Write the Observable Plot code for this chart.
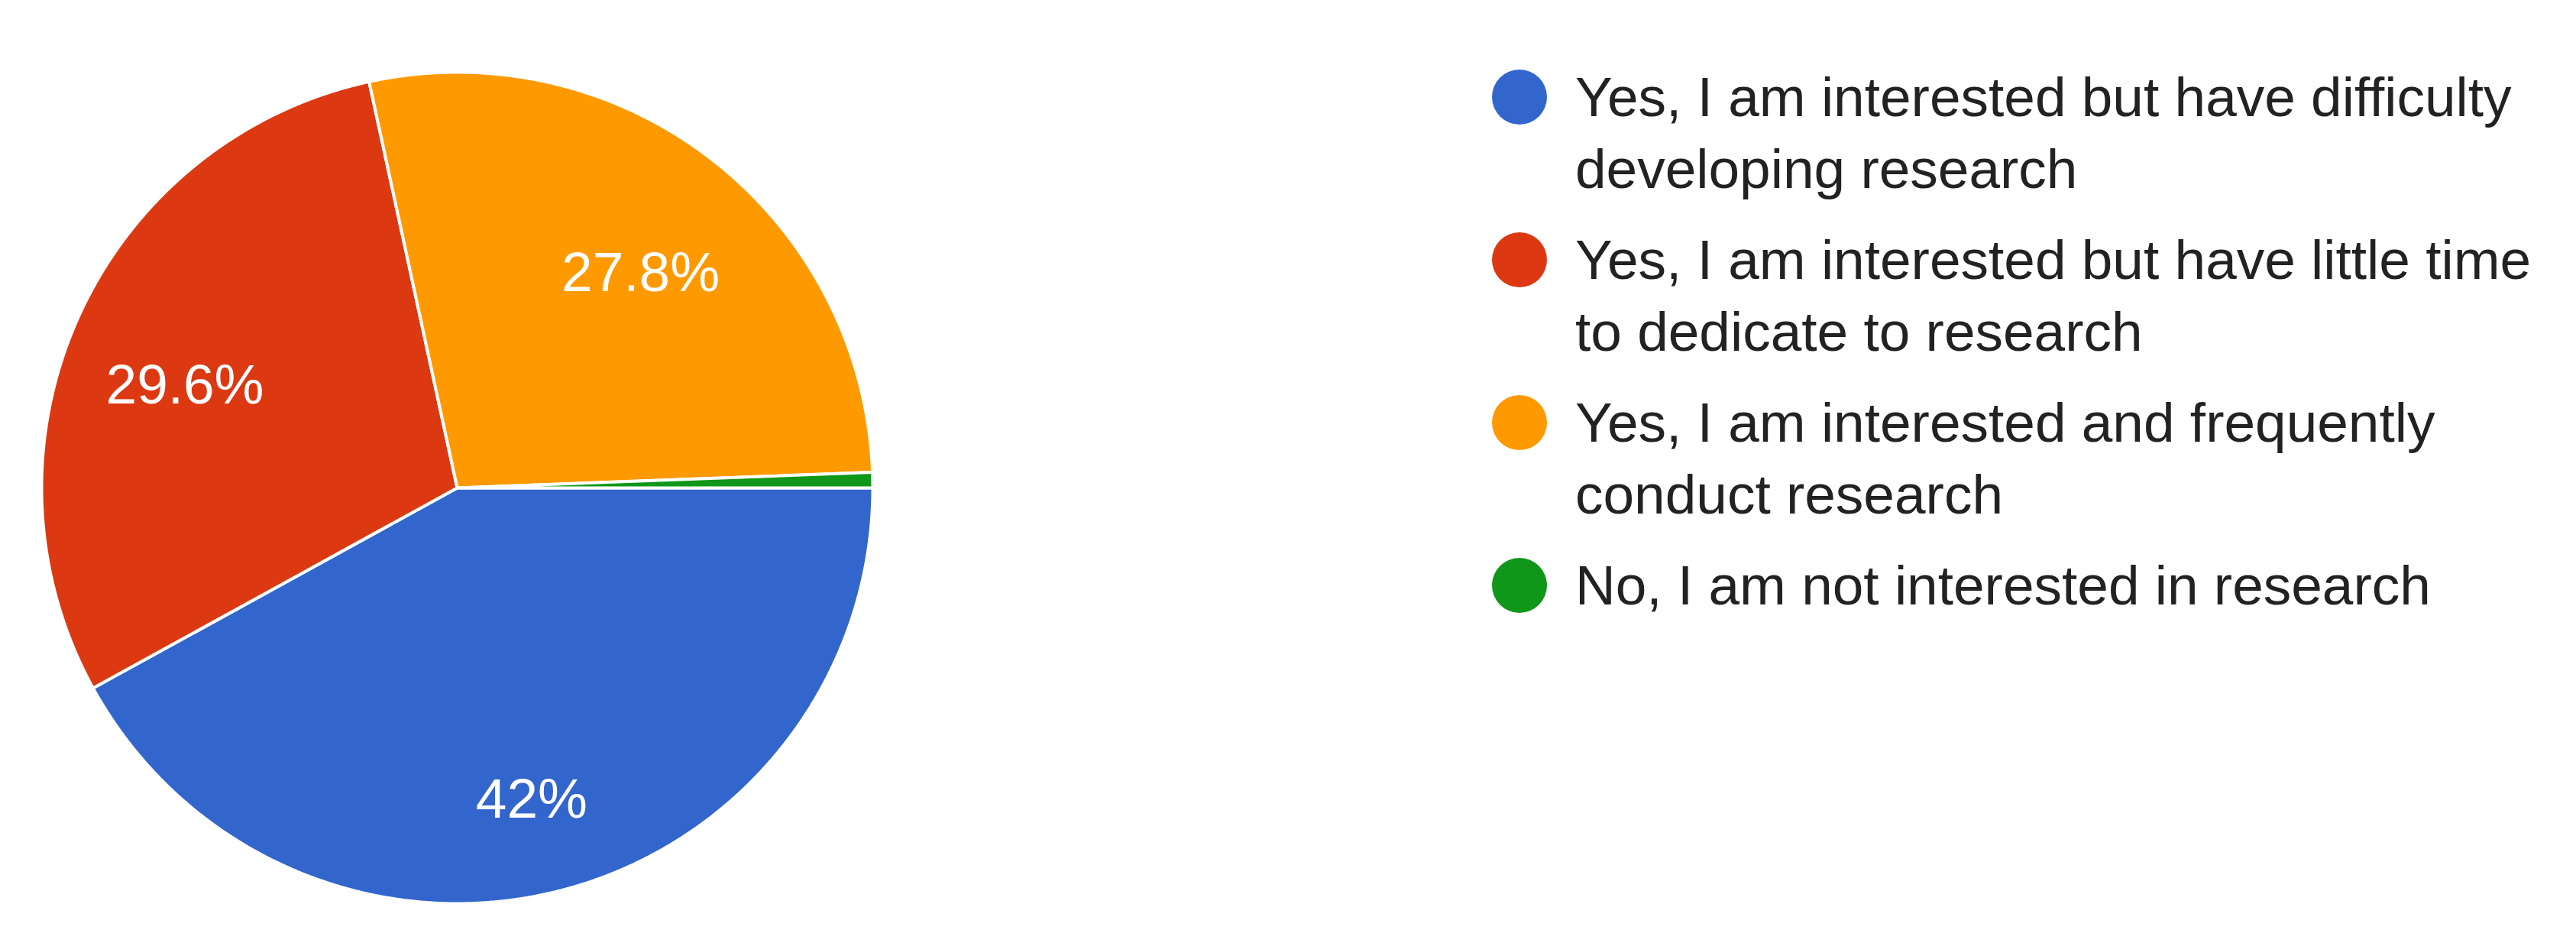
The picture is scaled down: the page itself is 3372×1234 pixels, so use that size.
<!DOCTYPE html>
<html>
<head>
<meta charset="utf-8">
<script src="https://cdn.jsdelivr.net/npm/d3@7"></script>
<script src="https://cdn.jsdelivr.net/npm/@observablehq/plot@0.6"></script>
<style>
html, body { margin: 0; padding: 0; background: #fff; }
body { width: 3372px; height: 1234px; position: relative; overflow: hidden; font-family: "Liberation Sans", Arial, sans-serif; }
#pie { position: absolute; left: 0; top: 0; }
#legend { position: absolute; left: 1953px; top: 80px; }
.item { display: flex; align-items: flex-start; margin-bottom: 25px; }
.dot { width: 72px; height: 72px; border-radius: 50%; margin-top: 11px; flex: none; }
.lab { margin-left: 37px; width: 1270px; font-size: 73px; line-height: 94px; color: #222; }
</style>
</head>
<body>
<div id="pie"></div>
<div id="legend"></div>
<script>
// ---- data ----
const categories = [
  "Yes, I am interested but have difficulty developing research",
  "Yes, I am interested but have little time to dedicate to research",
  "Yes, I am interested and frequently conduct research",
  "No, I am not interested in research"
];
const shares = [42, 29.6, 27.8, 0.6];
const sliceLabels = ["42%", "29.6%", "27.8%", ""];
const colors = ["#3366cc", "#dc3912", "#ff9900", "#109618"];

// ---- geometry from data (pie layout) ----
const rows = categories.map((c, i) => ({key: c, value: shares[i], label: sliceLabels[i]}));
const arcs = d3.pie().sort(null).value(d => d.value)
  .startAngle(Math.PI / 2).endAngle(Math.PI / 2 + 2 * Math.PI)(rows);

const points = [];
const labelPts = [];
for (const a of arcs) {
  const a0 = a.startAngle - Math.PI / 2;
  const a1 = a.endAngle - Math.PI / 2;
  const n = Math.max(2, Math.ceil((a1 - a0) / (Math.PI / 720)));
  points.push({key: a.data.key, x: 0, y: 0});
  for (let k = 0; k <= n; k++) {
    const t = a0 + (a1 - a0) * k / n;
    points.push({key: a.data.key, x: Math.cos(t), y: Math.sin(t)});
  }
  if (a.data.label) {
    const m = (a0 + a1) / 2;
    labelPts.push({label: a.data.label, x: 0.72 * Math.cos(m), y: 0.72 * Math.sin(m)});
  }
}

const chart = Plot.plot({
  width: 1200,
  height: 1234,
  marginLeft: 54, marginRight: 58, marginTop: 94, marginBottom: 52,
  x: {domain: [-1, 1], axis: null},
  y: {domain: [-1, 1], axis: null, reverse: true},
  color: {domain: categories, range: colors},
  style: {background: "white", fontFamily: "'Liberation Sans', Arial, sans-serif"},
  marks: [
    Plot.line(points, {x: "x", y: "y", z: "key", fill: "key", stroke: "white", strokeWidth: 4, strokeLinejoin: "round", curve: "linear-closed"}),
    Plot.text(labelPts, {x: "x", y: "y", text: "label", fill: "white", fontSize: 73, lineAnchor: "top", textAnchor: "middle"})
  ]
});
document.getElementById("pie").appendChild(chart);

// ---- legend ----
const colorScale = chart.scale("color");
const legend = document.getElementById("legend");
categories.forEach((c, i) => {
  const item = document.createElement("div");
  item.className = "item";
  const dot = document.createElement("div");
  dot.className = "dot";
  dot.style.background = colorScale.range[colorScale.domain.indexOf(c)];
  const lab = document.createElement("div");
  lab.className = "lab";
  lab.textContent = c;
  item.appendChild(dot);
  item.appendChild(lab);
  legend.appendChild(item);
});
</script>
</body>
</html>
